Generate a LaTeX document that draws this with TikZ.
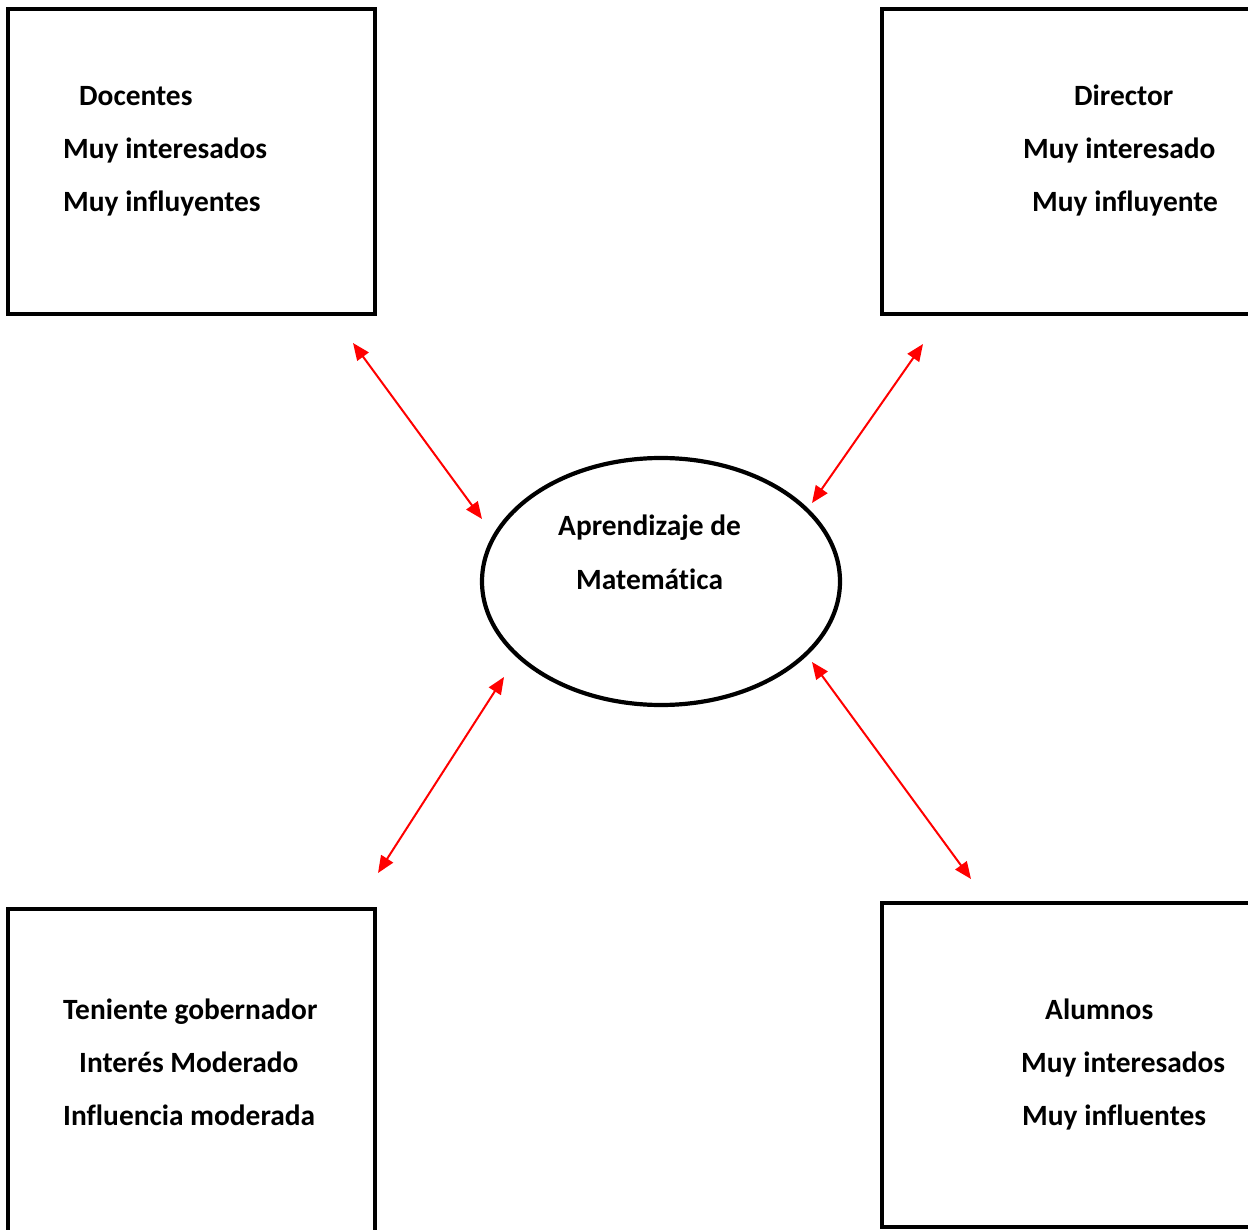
\documentclass[tikz,border=0pt]{standalone}
\usepackage{fontspec}
\setmainfont{Carlito}[Ligatures=NoCommon]
\usetikzlibrary{arrows.meta, shapes.geometric}

\tikzset{
    standbox/.style={draw=black, line width=4.2pt, inner sep=0pt},
    centro/.style={draw=black, ellipse, line width=4.2pt, inner sep=0pt,
        minimum width=358pt, minimum height=247pt},
    lbl/.style={anchor=base west, inner sep=0pt, font=\fontsize{29.4}{35}\selectfont\bfseries},
    flecha/.style={draw=red, line width=2pt,
        {Triangle[length=17pt,width=14pt]}-{Triangle[length=17pt,width=14pt]}}
}

\begin{document}
\begin{tikzpicture}[x=1pt, y=-1pt]
    \useasboundingbox (0,0) rectangle (1248,1230);
    \clip (0,0) rectangle (1248,1230);

    % actores
    \node[standbox, minimum width=367pt, minimum height=305pt] (docentes) at (191.5,161.5) {};
    \node[standbox, minimum width=370pt, minimum height=305pt] (director) at (1067,161.5) {};
    \node[standbox, minimum width=367pt, minimum height=331pt] (teniente) at (191.5,1074.5) {};
    \node[standbox, minimum width=370pt, minimum height=324pt] (alumnos) at (1067,1065) {};

    % tema central
    \node[centro] (tema) at (661,581.5) {};
    \node[lbl] (tema1) at (558,535) {Aprendizaje de};
    \node[lbl] (tema2) at (576,589) {Matemática};

    % textos
    \node[lbl] (doc1) at (79,106) {Docentes};
    \node[lbl] (doc2) at (63,159) {Muy interesados};
    \node[lbl] (doc3) at (63,212) {Muy influyentes};

    \node[lbl] (dir1) at (1074,106) {Director};
    \node[lbl] (dir2) at (1023,159) {Muy interesado};
    \node[lbl] (dir3) at (1032,212) {Muy influyente};

    \node[lbl] (ten1) at (63,1019) {Teniente gobernador};
    \node[lbl] (ten2) at (79,1072) {Interés Moderado};
    \node[lbl] (ten3) at (63,1125) {Influencia moderada};

    \node[lbl] (alu1) at (1045,1019) {Alumnos};
    \node[lbl] (alu2) at (1021,1072) {Muy interesados};
    \node[lbl] (alu3) at (1022,1125) {Muy influentes};

    % extremos de las flechas
    \coordinate (fdoc) at (353,343);
    \coordinate (tdoc) at (482,519);
    \coordinate (fdir) at (923,344);
    \coordinate (tdir) at (812,503);
    \coordinate (ften) at (378,873);
    \coordinate (tten) at (504,677);
    \coordinate (falu) at (971,879);
    \coordinate (talu) at (812,662);

    \draw[flecha] (fdoc) -- (tdoc);
    \draw[flecha] (fdir) -- (tdir);
    \draw[flecha] (ften) -- (tten);
    \draw[flecha] (falu) -- (talu);
\end{tikzpicture}
\end{document}
